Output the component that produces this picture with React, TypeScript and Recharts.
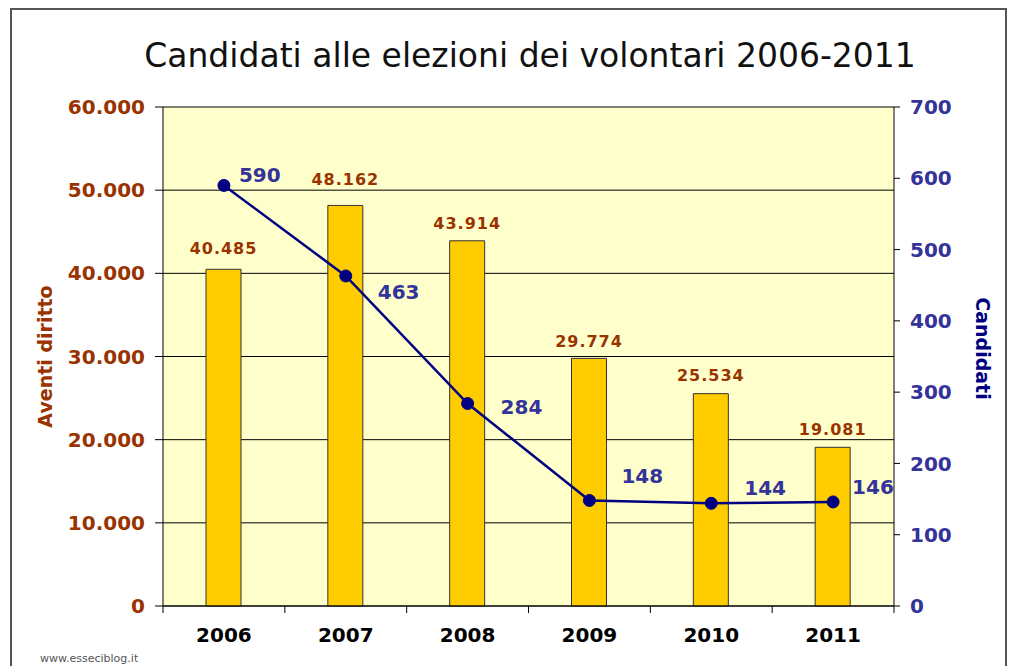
import React from 'react';
import { ComposedChart, Bar, Line, XAxis, YAxis, CartesianGrid, LabelList } from 'recharts';

const years = ['2006', '2007', '2008', '2009', '2010', '2011'];
const aventiDiritto = [40485, 48162, 43914, 29774, 25534, 19081];
const candidati = [590, 463, 284, 148, 144, 146];
const leftTicks = [0, 10000, 20000, 30000, 40000, 50000, 60000];
const rightTicks = [0, 100, 200, 300, 400, 500, 600, 700];

// where each line label sits relative to its point (dx = text start, dy = text middle)
const lineLabelOffsets = [
  [15, -10],
  [32, 16],
  [33, 3],
  [32, -24],
  [33, -15],
  [19, -15],
];
// distance from bar top to the middle of its label
const barLabelGap = [21, 26, 17, 17, 18, 18];

const data = years.map((year, i) => ({
  year,
  aventi: aventiDiritto[i],
  candidati: candidati[i],
}));

const BROWN = '#993300';
const BLUE = '#333399';
const NAVY = '#000080';
const FONT = '"DejaVu Sans", Verdana, sans-serif';
const X_TICK_SIZE = 6;
const X_TICK_MARGIN = 16;

const dotted = (v: number) => String(v).replace(/\B(?=(\d{3})+(?!\d))/g, '.');

const LineLabel = (props: any) => {
  const { x, y, value, index } = props;
  const [dx, dy] = lineLabelOffsets[index] || [15, -10];
  return (
    <text x={x + dx} y={y + dy} dominantBaseline="central" fill={BLUE} fontSize={20} fontWeight="bold" fontFamily={FONT}>
      {value}
    </text>
  );
};

const BarLabel = (props: any) => {
  const { x, y, width, value, index } = props;
  const gap = barLabelGap[index] || 18;
  return (
    <text x={x + width / 2} y={y - gap} textAnchor="middle" dominantBaseline="central" fill={BROWN} fontSize={16} fontWeight="bold" fontFamily={FONT} letterSpacing={1}>
      {dotted(Number(value))}
    </text>
  );
};

// year label plus the little tick marks on the category boundaries
const YearTick = (props: any) => {
  const { x, y, payload, index, width, visibleTicksCount } = props;
  const count = visibleTicksCount || years.length;
  const half = (width ? width / count : 121.8) / 2;
  const axisY = y - X_TICK_SIZE - X_TICK_MARGIN;
  return (
    <g>
      <line x1={x - half} x2={x - half} y1={axisY} y2={axisY + 7} stroke="#000" />
      {index === count - 1 && <line x1={x + half} x2={x + half} y1={axisY} y2={axisY + 7} stroke="#000" />}
      <text x={x} y={y} dy="0.71em" textAnchor="middle" fill="#000" fontSize={20} fontWeight="bold" fontFamily={FONT}>
        {payload.value}
      </text>
    </g>
  );
};

const LeftTitle = (props: any) => {
  const { viewBox } = props;
  const cx = 45;
  const cy = viewBox.y + viewBox.height / 2;
  return (
    <text x={cx} y={cy} transform={`rotate(-90 ${cx} ${cy})`} textAnchor="middle" dominantBaseline="central" fill={BROWN} fontSize={19} fontWeight="bold" fontFamily={FONT}>
      Aventi diritto
    </text>
  );
};

const RightTitle = (props: any) => {
  const { viewBox } = props;
  const cx = 983;
  const cy = viewBox.y + viewBox.height / 2 - 8;
  return (
    <text x={cx} y={cy} transform={`rotate(90 ${cx} ${cy})`} textAnchor="middle" dominantBaseline="central" fill={NAVY} fontSize={19} fontWeight="bold" fontFamily={FONT}>
      Candidati
    </text>
  );
};

export default function App() {
  return (
    <div style={{ position: 'absolute', left: 0, top: 0, width: 1014, height: 666, background: '#fff', overflow: 'hidden', fontFamily: FONT }}>
      <div style={{ position: 'absolute', left: 10, top: 8, width: 993, height: 720, border: '2px solid #555' }} />
      <div style={{ position: 'absolute', left: 0, top: 36, width: 1060, textAlign: 'center', fontSize: 33, color: '#111', whiteSpace: 'nowrap' }}>
        Candidati alle elezioni dei volontari 2006-2011
      </div>
      <div style={{ position: 'absolute', left: 40, top: 652, fontSize: 11, color: '#555' }}>www.esseciblog.it</div>
      <div style={{ position: 'absolute', left: 0, top: 0 }}>
        <ComposedChart width={1014} height={666} data={data} margin={{ top: 107, right: 20, bottom: 20, left: 36 }}>
          <CartesianGrid yAxisId="left" vertical={false} stroke="#000" fill="#FFFFCC" fillOpacity={1} />
          <XAxis
            dataKey="year"
            height={40}
            axisLine={{ stroke: '#000' }}
            tickLine={false}
            tickSize={X_TICK_SIZE}
            tickMargin={X_TICK_MARGIN}
            tick={<YearTick />}
          />
          <YAxis
            yAxisId="left"
            width={127}
            domain={[0, 60000]}
            ticks={leftTicks}
            tickFormatter={dotted}
            axisLine={{ stroke: '#000' }}
            tickLine={{ stroke: '#000' }}
            tickSize={8}
            tickMargin={10}
            tick={{ fill: BROWN, fontSize: 20, fontWeight: 'bold', fontFamily: FONT }}
            label={<LeftTitle />}
          />
          <YAxis
            yAxisId="right"
            orientation="right"
            width={100}
            domain={[0, 700]}
            ticks={rightTicks}
            axisLine={{ stroke: '#000' }}
            tickLine={{ stroke: '#000' }}
            tickSize={6}
            tickMargin={10}
            tick={{ fill: BLUE, fontSize: 20, fontWeight: 'bold', fontFamily: FONT }}
            label={<RightTitle />}
          />
          <Bar yAxisId="left" dataKey="aventi" fill="#FFCC00" stroke="#333" strokeWidth={1} barSize={35} isAnimationActive={false}>
            <LabelList dataKey="aventi" content={<BarLabel />} />
          </Bar>
          <Line
            yAxisId="right"
            dataKey="candidati"
            stroke={NAVY}
            strokeWidth={2.5}
            dot={{ r: 6, fill: NAVY, stroke: NAVY, strokeWidth: 1 }}
            isAnimationActive={false}
          >
            <LabelList dataKey="candidati" content={<LineLabel />} />
          </Line>
        </ComposedChart>
      </div>
    </div>
  );
}
